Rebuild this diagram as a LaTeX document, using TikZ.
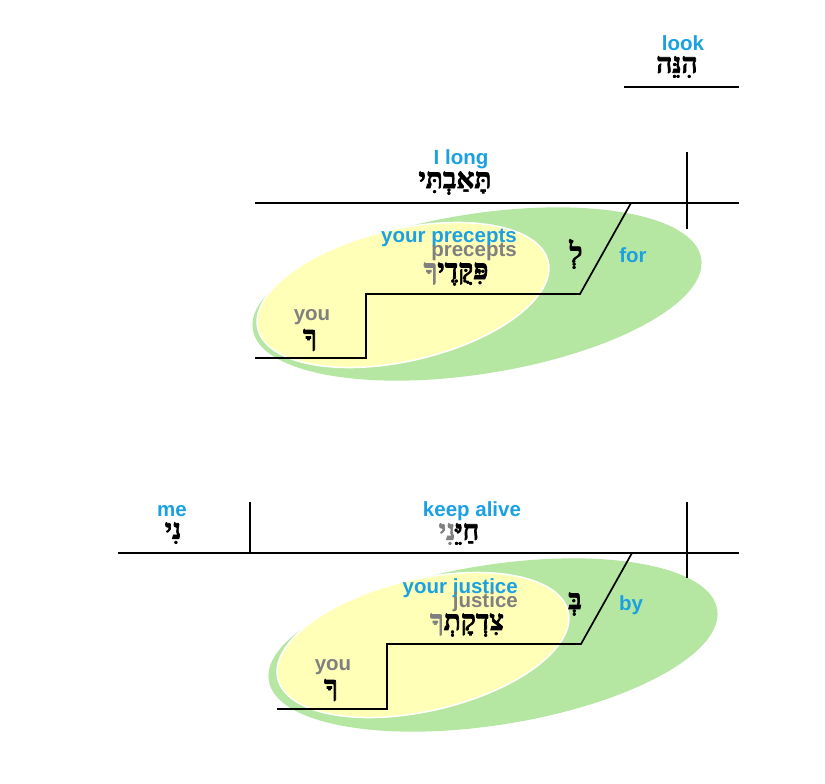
\documentclass[tikz,border=0pt]{standalone}
\usepackage{fontspec}
\usepackage{xcolor}
\setmainfont{Liberation Sans}
\newfontfamily\hebfont[Script=Hebrew, BoldFeatures={FakeBold=2.5}]{Liberation Serif}
\TeXXeTstate=1

\definecolor{glossblue}{RGB}{27,161,226}
\definecolor{lexgray}{RGB}{128,128,128}
\definecolor{modgreen}{RGB}{181,230,162}
\definecolor{modyellow}{RGB}{255,255,183}

\tikzset{
  gloss/.style={text=glossblue, inner sep=0pt, font=\fontsize{20.5}{24}\selectfont\bfseries},
  lexgloss/.style={text=lexgray, inner sep=0pt, font=\fontsize{20.5}{24}\selectfont\bfseries},
  heb/.style={inner sep=0pt, font=\hebfont\fontsize{28}{30}\selectfont\bfseries},
  baseline/.style={line width=1.7pt},
  greenmod/.style={fill=modgreen},
  yellowmod/.style={fill=modyellow, draw=white, line width=1.5pt}
}

\begin{document}
\begin{tikzpicture}[x=1pt,y=-1pt]
\useasboundingbox (0,0) rectangle (825,784);

\fill[greenmod, rotate around={9:(477,294)}] (477,294) ellipse [x radius=227, y radius=80];
\filldraw[yellowmod, rotate around={13:(403,295)}] (403,295) ellipse [x radius=149, y radius=66];
\fill[greenmod, rotate around={9:(493,645)}] (493,645) ellipse [x radius=227, y radius=80];
\filldraw[yellowmod, rotate around={13:(423,645)}] (423,645) ellipse [x radius=149, y radius=66];

\node[gloss] (look) at (683,43) {look};
\node[heb] (lookheb) at (677,67) {\beginR הִנֵּה\endR};
\coordinate (lookL) at (624,87);
\coordinate (lookR) at (739,87);
\draw[baseline] (lookL) -- (lookR);

\node[gloss] (long) at (461,159) {I long};
\node[heb] (longheb) at (455,183) {\beginR תָּאַבְתִּי\endR};
\coordinate (longL) at (255,203);
\coordinate (longR) at (739,203);
\coordinate (longdivT) at (687,152);
\coordinate (longdivB) at (687,229);
\coordinate (forT) at (631,203);
\coordinate (forB) at (580,294);
\coordinate (preceptsL) at (366,294);
\coordinate (youT) at (366,358);
\coordinate (youL) at (255,358);
\draw[baseline] (longL) -- (longR);
\draw[baseline] (longdivT) -- (longdivB);
\draw[baseline] (forT) -- (forB) -- (preceptsL) -- (youT) -- (youL);

\node[gloss, anchor=east] (yourprecepts) at (517,238) {your precepts};
\node[lexgloss, anchor=east] (precepts) at (517,252) {precepts};
\node[heb] (preceptsheb) at (456,274) {{\color{lexgray}ךָ}פִּקֻּדֶי};
\node[heb] (forheb) at (576,254) {\beginR לְ\endR};
\node[gloss] (for) at (633,255) {for};
\node[lexgloss] (you1) at (312,317) {you};
\node[heb] (you1heb) at (310,340) {\beginR ךָ\endR};

\node[gloss] (me) at (172,511) {me};
\node[heb] (meheb) at (173,533) {\beginR נִי\endR};
\node[gloss] (keepalive) at (472,511) {keep alive};
\node[heb] (keepaliveheb) at (459,534) {{\color{lexgray}נִי}חַיֵּ};
\coordinate (aliveL) at (118,553);
\coordinate (aliveR) at (739,553);
\coordinate (medivT) at (250,502);
\coordinate (medivB) at (250,553);
\coordinate (alivedivT) at (687,502);
\coordinate (alivedivB) at (687,578);
\coordinate (byT) at (632,553);
\coordinate (byB) at (581,644);
\coordinate (justiceL) at (387,644);
\coordinate (you2T) at (387,709);
\coordinate (you2L) at (277,709);
\draw[baseline] (aliveL) -- (aliveR);
\draw[baseline] (medivT) -- (medivB);
\draw[baseline] (alivedivT) -- (alivedivB);
\draw[baseline] (byT) -- (byB) -- (justiceL) -- (you2T) -- (you2L);

\node[gloss, anchor=east] (yourjustice) at (518,588) {your justice};
\node[lexgloss, anchor=east] (justice) at (518,602) {justice};
\node[heb] (justiceheb) at (467,625) {{\color{lexgray}ךָ}צִדְקָתְ};
\node[heb] (byheb) at (575,604) {\beginR בְּ\endR};
\node[gloss] (by) at (631,605) {by};
\node[lexgloss] (you2) at (333,667) {you};
\node[heb] (you2heb) at (331,690) {\beginR ךָ\endR};
\end{tikzpicture}
\end{document}
